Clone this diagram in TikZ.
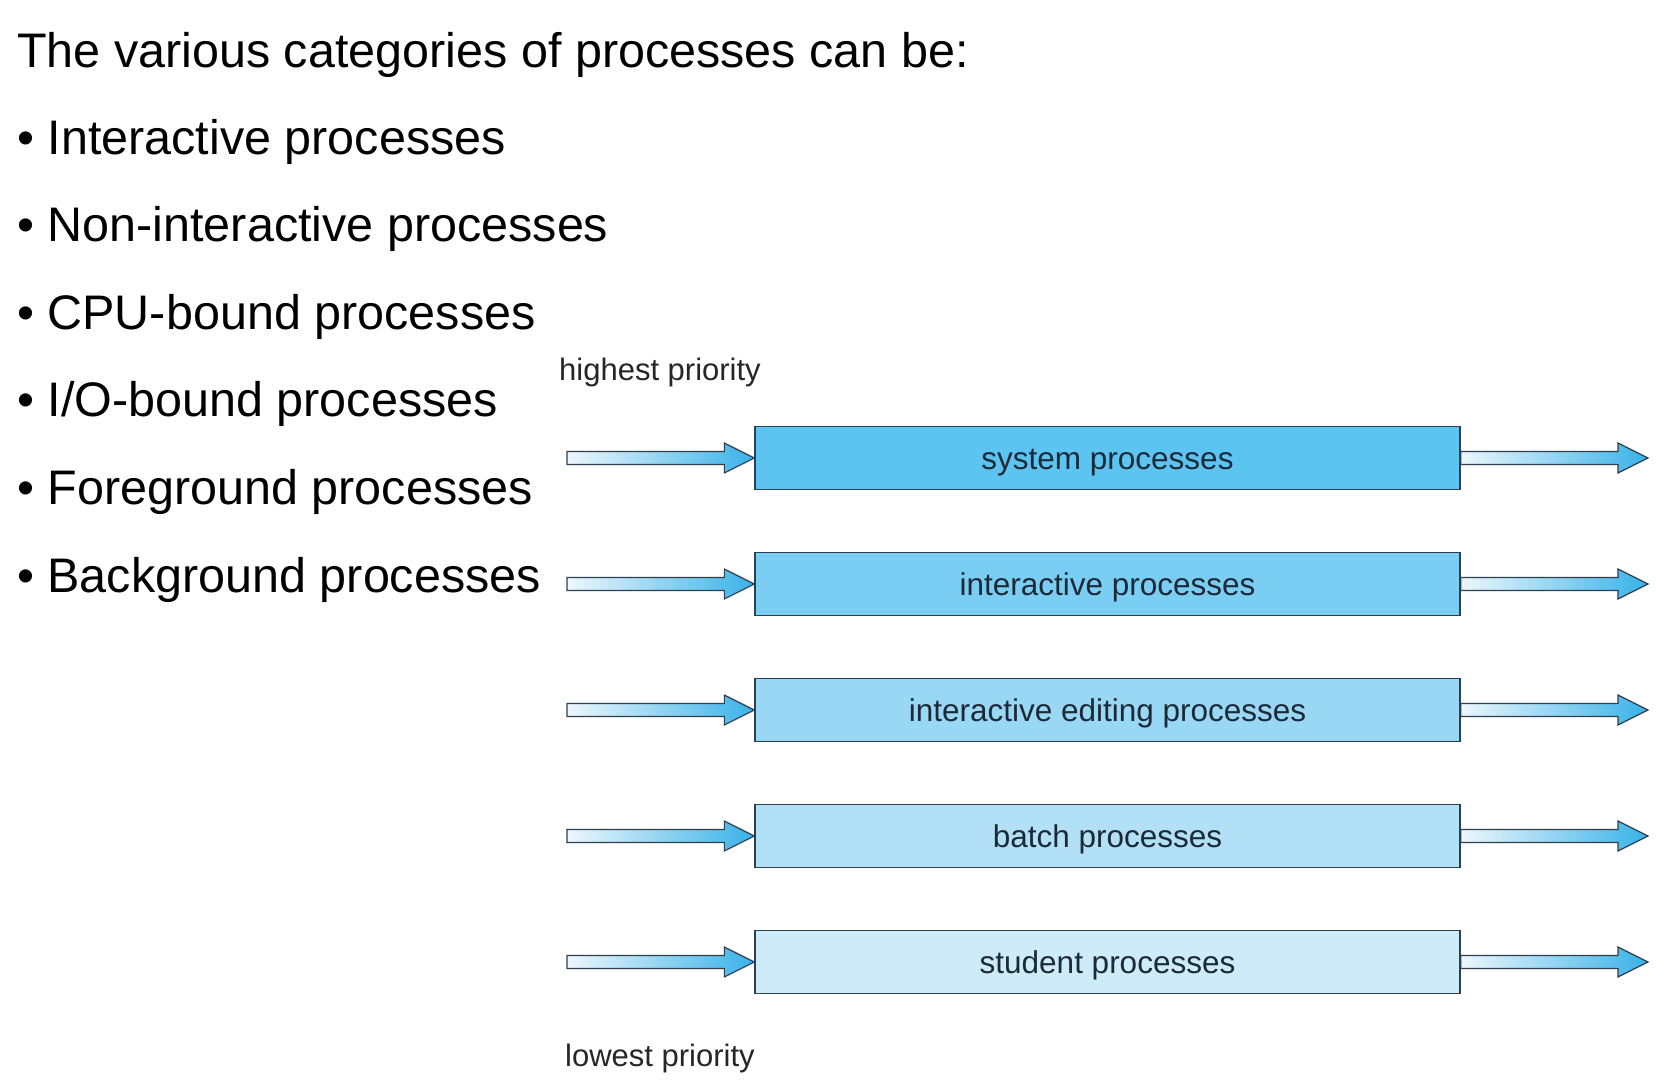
\documentclass[tikz,border=0pt]{standalone}
\usepackage{fontspec}
\setmainfont{Liberation Sans}
\usetikzlibrary{calc}
\definecolor{edge}{HTML}{2E3F4E}
\definecolor{cA}{HTML}{5BC4F1}
\definecolor{cB}{HTML}{7BCEF3}
\definecolor{cC}{HTML}{98D8F5}
\definecolor{cD}{HTML}{B2E1F7}
\definecolor{cE}{HTML}{CDEBF9}
\definecolor{arrL}{HTML}{EDF7FD}
\definecolor{arrR}{HTML}{38B2E8}
\definecolor{boxtext}{HTML}{1C2A38}
\tikzset{
  bigtext/.style={anchor=base west, inner sep=0pt, font=\fontsize{48.5}{58}\selectfont},
  smalltext/.style={anchor=base west, inner sep=0pt, font=\fontsize{31}{37}\selectfont, text=black!85},
  procbox/.style={draw=edge, line width=1.3pt, minimum width=705pt, minimum height=63pt, inner sep=0pt,
    text height=23pt, text depth=0pt,
    font=\fontsize{31.5}{37}\selectfont, text=boxtext},
  barrow/.style={draw=edge, line width=1.2pt, left color=arrL, right color=arrR, line join=miter}
}
\newcommand\blockarrow[2]{%
  \draw[barrow] let \p1=(#1), \p2=(#2) in
    (\x1,\y2-6.5pt) -- (\x2-30pt,\y2-6.5pt) -- (\x2-30pt,\y2-15pt) -- (\x2,\y2)
    -- (\x2-30pt,\y2+15pt) -- (\x2-30pt,\y2+6.5pt) -- (\x1,\y2+6.5pt) -- cycle;}
\begin{document}
\begin{tikzpicture}[x=1pt,y=-1pt]
\useasboundingbox[fill=white] (0,0) rectangle (1675,1088);
\node[bigtext] (title) at (17,67) {The various categories of processes can be:};
\node[bigtext] (b1) at (17,154) {• Interactive processes};
\node[bigtext] (b2) at (17,241) {• Non-interactive processes};
\node[bigtext] (b3) at (17,329) {• CPU-bound processes};
\node[bigtext] (b4) at (17,416) {• I/O-bound processes};
\node[bigtext] (b5) at (17,504) {• Foreground processes};
\node[bigtext] (b6) at (17,592) {• Background processes};

\node[smalltext] (hi) at (559,380) {highest priority};
\node[smalltext] (lo) at (565,1066) {lowest priority};

\foreach \i/\y/\c/\t in {1/458/cA/system processes,
                        2/584/cB/interactive processes,
                        3/710/cC/interactive editing processes,
                        4/836/cD/batch processes,
                        5/962/cE/student processes}{
  \node[procbox, fill=\c] (p\i) at (1107.5,\y) {\t};
  \coordinate (s\i) at (567,\y);
  \coordinate (e\i) at (1648,\y);
  \blockarrow{s\i}{p\i.west}
  \blockarrow{p\i.east}{e\i}
}
\end{tikzpicture}
\end{document}
